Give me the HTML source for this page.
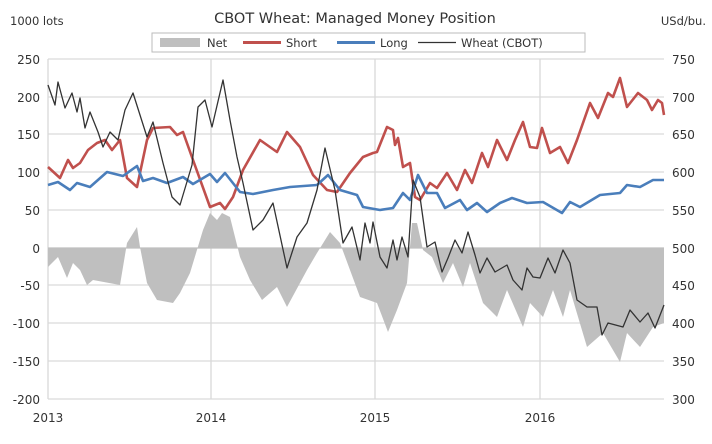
<!DOCTYPE html><html><head><style>body{margin:0;background:#fff}svg{display:block;font-family:"DejaVu Sans","Liberation Sans",sans-serif}</style></head><body>
<svg width="712" height="444" viewBox="0 0 712 444">
<text x="355" y="23" font-size="14.5" text-anchor="middle" fill="#333">CBOT Wheat: Managed Money Position</text>
<text x="10" y="25" font-size="11.5" fill="#333">1000 lots</text>
<text x="706" y="25" font-size="11.5" fill="#333" text-anchor="end">USd/bu.</text>
<rect x="152" y="33" width="433" height="19" fill="#fff" stroke="#bbb"/>
<rect x="160" y="38" width="40" height="9" fill="#bfbfbf"/><text x="207" y="47" font-size="11.5" fill="#333">Net</text>
<line x1="243" y1="42.5" x2="281" y2="42.5" stroke="#c0504d" stroke-width="3"/><text x="286" y="47" font-size="11.5" fill="#333">Short</text>
<line x1="337" y1="42.5" x2="375" y2="42.5" stroke="#4a7ebb" stroke-width="3"/><text x="380" y="47" font-size="11.5" fill="#333">Long</text>
<line x1="418" y1="42.5" x2="456" y2="42.5" stroke="#333" stroke-width="1.3"/><text x="461" y="47" font-size="11.5" fill="#333">Wheat (CBOT)</text>
<g stroke="#d9d9d9" stroke-width="1.3">
<line x1="48" y1="59" x2="664" y2="59"/><line x1="48" y1="97" x2="664" y2="97"/><line x1="48" y1="134" x2="664" y2="134"/><line x1="48" y1="172" x2="664" y2="172"/><line x1="48" y1="210" x2="664" y2="210"/><line x1="48" y1="285" x2="664" y2="285"/><line x1="48" y1="323" x2="664" y2="323"/><line x1="48" y1="361" x2="664" y2="361"/><line x1="48" y1="399" x2="664" y2="399"/>
<line x1="48" y1="59" x2="48" y2="399"/><line x1="211" y1="59" x2="211" y2="399"/><line x1="375" y1="59" x2="375" y2="399"/><line x1="540" y1="59" x2="540" y2="399"/>
</g>
<polygon fill="#bfbfbf" points="48,248 48,267 58,257 67,278 73,263 80,270 87,285 93,280 120,285 127,243 137,227 140,247 147,283 157,300 173,303 180,293 190,273 203,230 210,213 217,220 222,213 230,217 240,257 250,280 262,300 277,287 287,307 307,270 317,253 330,232 340,243 360,297 377,303 388,332 397,310 407,283 412,223 417,223 423,250 432,257 443,283 453,263 463,287 470,263 483,303 497,317 507,290 523,327 530,303 543,317 553,290 563,317 570,290 587,347 603,333 620,362 627,333 640,347 653,327 664,323 664,248"/>
<line x1="48" y1="248" x2="664" y2="248" stroke="#bfbfbf" stroke-width="1.3"/>
<polyline fill="none" stroke="#c0504d" stroke-width="2.6" stroke-linejoin="round" points="48,167 60,178 68,160 73,168 80,163 88,150 97,143 105,140 112,150 120,140 127,178 137,187 147,140 153,128 170,127 177,135 183,132 193,160 210,207 220,203 225,209 233,197 243,170 260,140 277,152 287,132 300,147 313,175 327,190 337,192 350,173 363,157 373,153 377,152 387,127 393,130 395,145 398,138 403,167 410,163 415,197 420,200 430,183 437,188 447,173 457,190 465,170 472,183 482,153 488,167 497,140 507,160 515,140 523,122 530,147 537,148 542,128 550,153 560,147 568,163 577,140 590,103 598,118 608,93 613,97 620,78 627,107 638,93 647,100 652,110 658,100 662,103 664,115"/>
<polyline fill="none" stroke="#4a7ebb" stroke-width="2.6" stroke-linejoin="round" points="48,185 58,182 70,190 77,183 90,187 107,172 123,176 137,166 143,181 153,178 167,183 183,177 193,184 210,174 217,182 225,173 240,192 253,194 273,190 290,187 317,185 328,175 340,190 357,195 363,207 380,210 393,208 403,193 410,200 418,175 427,193 437,193 445,208 460,200 467,210 477,203 487,212 500,203 512,198 527,203 543,202 562,213 570,202 580,207 600,195 620,193 627,185 640,187 653,180 664,180"/>
<polyline fill="none" stroke="#333" stroke-width="1.3" stroke-linejoin="round" points="48,85 55,105 58,82 65,108 72,93 77,112 80,98 85,128 90,112 98,132 103,147 110,132 118,140 125,110 133,93 147,137 153,122 163,163 172,197 180,205 192,165 198,107 205,100 212,127 223,80 230,120 237,157 243,183 253,230 263,220 273,203 287,268 297,237 307,223 317,190 325,148 335,190 343,243 352,227 360,260 365,223 370,243 373,222 380,257 387,268 393,240 397,260 402,237 408,257 413,180 420,197 427,247 435,242 442,272 448,258 455,240 462,253 468,232 475,255 480,273 487,258 495,272 507,265 513,280 522,290 527,268 533,277 540,278 548,258 555,273 563,250 570,263 577,300 587,307 597,307 602,335 608,323 623,327 630,310 640,322 648,313 655,328 664,305"/>
<g font-size="12" fill="#333" text-anchor="end">
<text x="40" y="64">250</text><text x="40" y="102">200</text><text x="40" y="139">150</text><text x="40" y="177">100</text><text x="40" y="215">50</text><text x="40" y="253">0</text><text x="40" y="290">-50</text><text x="40" y="328">-100</text><text x="40" y="366">-150</text><text x="40" y="404">-200</text>
</g>
<g font-size="12" fill="#333">
<text x="672" y="64">750</text><text x="672" y="102">700</text><text x="672" y="139">650</text><text x="672" y="177">600</text><text x="672" y="215">550</text><text x="672" y="253">500</text><text x="672" y="290">450</text><text x="672" y="328">400</text><text x="672" y="366">350</text><text x="672" y="404">300</text>
</g>
<g font-size="12" fill="#333" text-anchor="middle">
<text x="48" y="422">2013</text><text x="211" y="422">2014</text><text x="375" y="422">2015</text><text x="540" y="422">2016</text>
</g>
</svg></body></html>
